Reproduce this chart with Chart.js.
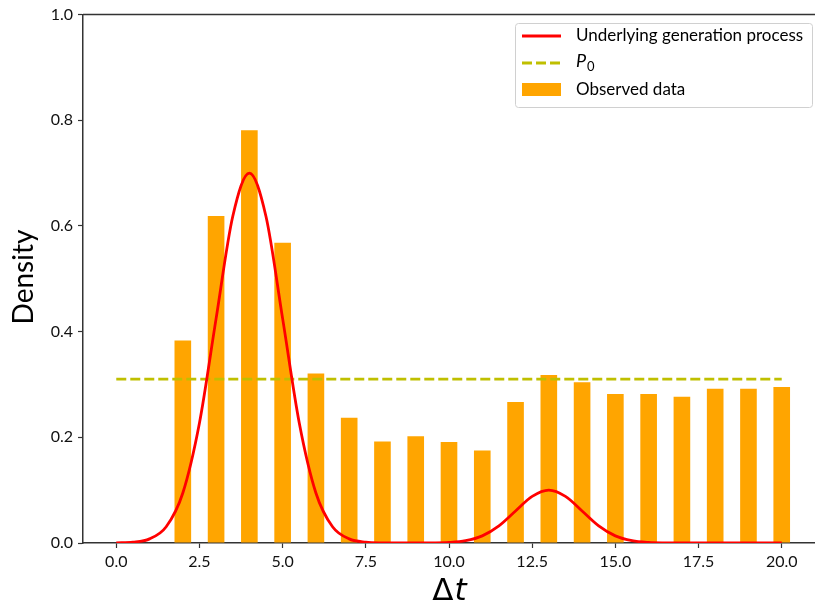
<!DOCTYPE html>
<html>
<head>
<meta charset="utf-8">
<script src="https://cdn.jsdelivr.net/npm/chart.js@4/dist/chart.umd.min.js"></script>
<style>
html,body{margin:0;padding:0;background:#fff;}
#wrap{width:815px;height:606px;position:relative;}
</style>
</head>
<body>
<div id="wrap"><canvas id="chart" width="815" height="606"></canvas></div>
<script>
// observed histogram (one bar per integer delta t)
var binCenters = [2, 3, 4, 5, 6, 7, 8, 9, 10, 11, 12, 13, 14, 15, 16, 17, 18, 19, 20];
var observedDensity = [0.383, 0.619, 0.781, 0.568, 0.321, 0.237, 0.192, 0.202, 0.191, 0.175,
                       0.267, 0.318, 0.304, 0.282, 0.282, 0.277, 0.292, 0.292, 0.295];

// underlying generation process
var curveX = [0, 0.5, 1, 1.5, 2, 2.5, 3, 3.5, 4, 4.5, 5, 5.5, 6, 6.5, 7, 7.5, 8, 8.5, 9, 9.5,
              10, 10.5, 11, 11.5, 12, 12.5, 13, 13.5, 14, 14.5, 15, 15.5, 16, 16.5, 17, 17.5, 18, 18.5, 19, 19.5, 20];
var curveY = [0.0002, 0.0015, 0.0078, 0.0307, 0.0947, 0.2272, 0.4246, 0.6178, 0.7000, 0.6178,
              0.4246, 0.2272, 0.0947, 0.0307, 0.0078, 0.0015, 0.0002, 0.0000, 0.0000, 0.0002,
              0.0011, 0.0044, 0.0135, 0.0325, 0.0607, 0.0882, 0.1000, 0.0882, 0.0607, 0.0325,
              0.0135, 0.0044, 0.0011, 0.0002, 0.0000, 0.0000, 0.0000, 0.0000, 0.0000, 0.0000, 0.0000];

// P0 reference level
var p0Value = 0.31;
var p0Range = [0, 20];

var xTicks = [0, 2.5, 5, 7.5, 10, 12.5, 15, 17.5, 20];
var yTicks = [0, 0.2, 0.4, 0.6, 0.8, 1.0];

var tickFont = {family: "Lato", size: 16};
var spineColor = '#333';

var extras = {
  id: 'extras',
  afterDraw: function(chart){
    var ctx = chart.ctx;
    var a = chart.chartArea;
    ctx.save();
    // top spine
    ctx.strokeStyle = spineColor;
    ctx.lineWidth = 1.5;
    ctx.beginPath();
    ctx.moveTo(a.left, a.top);
    ctx.lineTo(a.right, a.top);
    ctx.stroke();

    // y title
    ctx.fillStyle = '#000';
    ctx.font = '28px Lato';
    ctx.textAlign = 'center';
    ctx.textBaseline = 'middle';
    ctx.translate(24, 277);
    ctx.rotate(-Math.PI / 2);
    ctx.fillText('Density', 0, 0);
    ctx.setTransform(1, 0, 0, 1, 0, 0);

    // x title: upright Delta, italic t
    ctx.textAlign = 'left';
    ctx.textBaseline = 'alphabetic';
    ctx.font = '31px "DejaVu Sans"';
    var w1 = ctx.measureText('\u0394').width;
    ctx.font = 'italic 31px "DejaVu Sans"';
    var w2 = ctx.measureText('t').width;
    var cx = (a.left + a.right) / 2;
    var x0 = cx - (w1 + w2) / 2;
    ctx.font = '31px "DejaVu Sans"';
    ctx.fillText('\u0394', x0, 600);
    ctx.font = 'italic 31px "DejaVu Sans"';
    ctx.fillText('t', x0 + w1 + 1, 600);

    // legend
    var lx = 515, ly = 23, lw = 297, lh = 84;
    ctx.fillStyle = 'rgba(255,255,255,0.8)';
    ctx.strokeStyle = '#d0d0d0';
    ctx.lineWidth = 1;
    ctx.beginPath();
    ctx.roundRect(lx + 0.5, ly + 0.5, lw, lh, 3);
    ctx.fill();
    ctx.stroke();

    ctx.lineWidth = 2.8;
    ctx.strokeStyle = '#ff0000';
    ctx.beginPath();
    ctx.moveTo(522, 36);
    ctx.lineTo(561, 36);
    ctx.stroke();

    ctx.strokeStyle = '#bfbf00';
    ctx.setLineDash([10, 4]);
    ctx.beginPath();
    ctx.moveTo(522, 63);
    ctx.lineTo(561, 63);
    ctx.stroke();
    ctx.setLineDash([]);

    ctx.fillStyle = '#ffa500';
    ctx.fillRect(522, 83, 39, 13);

    ctx.fillStyle = '#000';
    ctx.textBaseline = 'middle';
    ctx.font = '17px Lato';
    ctx.fillText('Underlying generation process', 576, 36);
    ctx.fillText('Observed data', 576, 90);
    ctx.font = 'italic 18px Lato';
    ctx.fillText('P', 576, 61);
    var pw = ctx.measureText('P').width;
    ctx.font = '13px Lato';
    ctx.fillText('0', 576 + pw + 1, 67);
    ctx.restore();
  }
};

var ctx = document.getElementById('chart').getContext('2d');
new Chart(ctx, {
  type: 'bar',
  data: {
    datasets: [{
      label: 'Observed data',
      data: binCenters.map(function(x, i){ return {x: x, y: observedDensity[i]}; }),
      backgroundColor: '#ffa500',
      borderWidth: 0,
      barPercentage: 0.5,
      categoryPercentage: 1.0,
      order: 3
    }, {
      type: 'line',
      label: 'P0',
      data: p0Range.map(function(x){ return {x: x, y: p0Value}; }),
      borderColor: '#bfbf00',
      borderWidth: 2.8,
      borderDash: [10, 4],
      pointRadius: 0,
      fill: false,
      order: 2
    }, {
      type: 'line',
      label: 'Underlying generation process',
      data: curveX.map(function(x, i){ return {x: x, y: curveY[i]}; }),
      borderColor: '#ff0000',
      borderWidth: 2.8,
      pointRadius: 0,
      cubicInterpolationMode: 'monotone',
      fill: false,
      order: 1
    }]
  },
  options: {
    responsive: false,
    devicePixelRatio: 1,
    animation: false,
    layout: {padding: {top: 13, right: 0, left: 0, bottom: 0}},
    plugins: {
      legend: {display: false},
      tooltip: {enabled: false}
    },
    scales: {
      x: {
        type: 'linear',
        min: -1,
        max: 21,
        offset: false,
        grid: {display: true, offset: false, drawOnChartArea: false, drawTicks: true, tickLength: 5, tickColor: spineColor, tickWidth: 1.2},
        border: {display: true, color: spineColor, width: 1.5},
        ticks: {
          color: '#111',
          font: tickFont,
          padding: 4,
          maxRotation: 0,
          autoSkip: false,
          callback: function(v){ return Number(v).toFixed(1); }
        },
        afterBuildTicks: function(s){ s.ticks = xTicks.map(function(v){ return {value: v}; }); },
        afterFit: function(s){ s.height = 63; }
      },
      y: {
        min: 0,
        max: 1,
        grid: {display: true, offset: false, drawOnChartArea: false, drawTicks: true, tickLength: 5, tickColor: spineColor, tickWidth: 1.2},
        border: {display: true, color: spineColor, width: 1.5},
        ticks: {
          color: '#111',
          font: tickFont,
          padding: 5,
          autoSkip: false,
          callback: function(v){ return Number(v).toFixed(1); }
        },
        afterBuildTicks: function(s){ s.ticks = yTicks.map(function(v){ return {value: v}; }); },
        afterFit: function(s){ s.width = 83; }
      }
    }
  },
  plugins: [extras]
});
</script>
</body>
</html>
